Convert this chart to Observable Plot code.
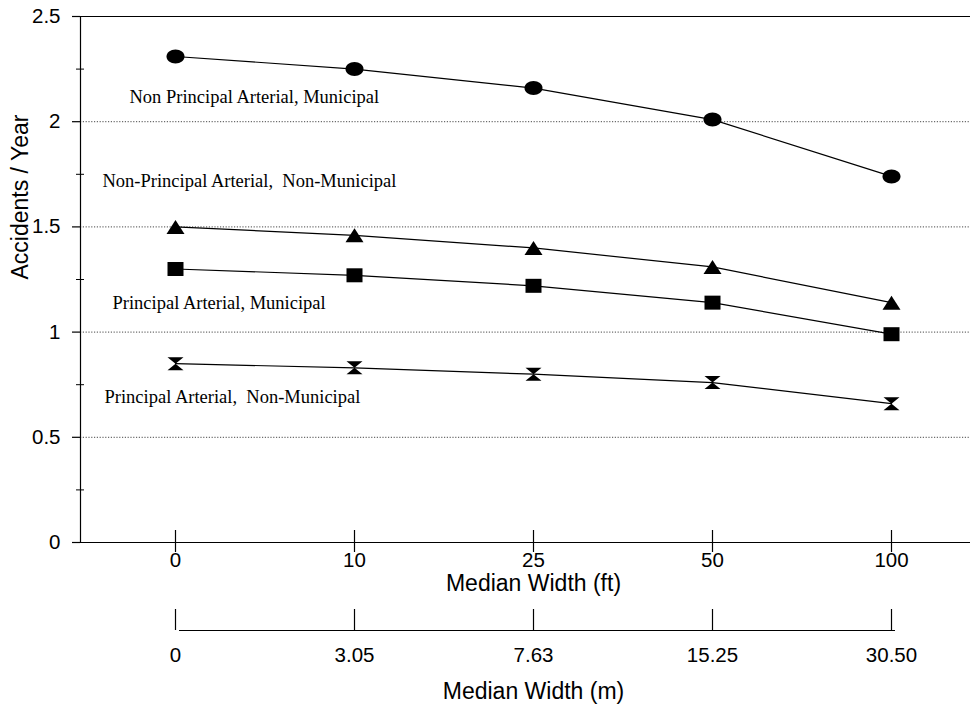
<!DOCTYPE html>
<html>
<head>
<meta charset="utf-8">
<script src="https://cdn.jsdelivr.net/npm/d3@7"></script>
<script src="https://cdn.jsdelivr.net/npm/@observablehq/plot@0.6"></script>
<style>
  html, body { margin: 0; padding: 0; background: #fff; }
  #chart svg { display: block; }
</style>
</head>
<body>
<div id="chart"></div>
<script>
// ---- data ----
const widthFt = ["0", "10", "25", "50", "100"];
const widthM = ["0", "3.05", "7.63", "15.25", "30.50"];
const seriesNames = [
  "Non Principal Arterial, Municipal",
  "Non-Principal Arterial,  Non-Municipal",
  "Principal Arterial, Municipal",
  "Principal Arterial,  Non-Municipal"
];
const nonPrincipalMunicipal = [2.31, 2.25, 2.16, 2.01, 1.74];
const nonPrincipalNonMunicipal = [1.50, 1.46, 1.40, 1.31, 1.14];
const principalMunicipal = [1.30, 1.27, 1.22, 1.14, 0.99];
const principalNonMunicipal = [0.85, 0.83, 0.80, 0.76, 0.66];
const yTicks = [0, 0.5, 1, 1.5, 2, 2.5];
const yMinorTicks = [0.25, 0.75, 1.25, 1.75, 2.25];
const gridValues = [0.5, 1, 1.5, 2];
// label annotation vertical positions (accidents/year)
const labelY = [2.115, 1.72, 1.14, 0.69];
const labelDx = [-46, -73, -63, -71];

const seriesValues = [nonPrincipalMunicipal, nonPrincipalNonMunicipal, principalMunicipal, principalNonMunicipal];
const rows = [];
seriesNames.forEach((s, si) => widthFt.forEach((x, i) => rows.push({series: s, x, y: seriesValues[si][i]})));

// ---- custom marker symbols ----
const ellipse = {draw(ctx) {
  const rx = 9, ry = 7, k = 0.5523;
  ctx.moveTo(rx, 0);
  ctx.bezierCurveTo(rx, ry * k, rx * k, ry, 0, ry);
  ctx.bezierCurveTo(-rx * k, ry, -rx, ry * k, -rx, 0);
  ctx.bezierCurveTo(-rx, -ry * k, -rx * k, -ry, 0, -ry);
  ctx.bezierCurveTo(rx * k, -ry, rx, -ry * k, rx, 0);
  ctx.closePath();
}};
const triangle = {draw(ctx) {
  ctx.moveTo(0, -7); ctx.lineTo(9, 7); ctx.lineTo(-9, 7); ctx.closePath();
}};
const square = {draw(ctx) {
  ctx.moveTo(-8, -7); ctx.lineTo(8, -7); ctx.lineTo(8, 7); ctx.lineTo(-8, 7); ctx.closePath();
}};
const hourglass = {draw(ctx) {
  ctx.moveTo(-8, -6.5); ctx.lineTo(8, -6.5); ctx.lineTo(0, 0); ctx.closePath();
  ctx.moveTo(-8, 6.5); ctx.lineTo(8, 6.5); ctx.lineTo(0, 0); ctx.closePath();
  ctx.moveTo(-5, 0); ctx.lineTo(5, 0);
}};

const sans = "'Liberation Sans', Arial, Helvetica, sans-serif";
const serif = "'Liberation Serif', 'Times New Roman', Times, serif";

const marks = [
  Plot.ruleY(gridValues, {stroke: "#000", strokeWidth: 0.9, strokeDasharray: "1.2,1.6", strokeOpacity: 0.8}),
  Plot.frame({anchor: "top", stroke: "#000", strokeWidth: 1.2}),
  Plot.frame({anchor: "left", stroke: "#000", strokeWidth: 1.2}),
  Plot.frame({anchor: "bottom", stroke: "#000", strokeWidth: 1.2}),
  Plot.axisY({ticks: yTicks, label: null, tickSize: 8, tickPadding: 12,
    fill: "#000", stroke: "#000", strokeWidth: 1.2, tickFormat: d => String(d)}),
  Plot.axisY({ticks: yMinorTicks, label: null, tickSize: 8, dx: 4, tickFormat: () => "", stroke: "#000", strokeWidth: 1}),
  Plot.axisX({label: null, tickSize: 22, dy: -12, tickFormat: () => "", stroke: "#000", strokeWidth: 1.2}),
  Plot.axisX({label: null, tickSize: 0, tickPadding: 10, fill: "#000"}),
  // metric axis
  Plot.ruleY([0], {x1: () => widthFt[0], x2: () => widthFt[widthFt.length - 1], dy: 88, dx: 4, stroke: "#000", strokeWidth: 1.2}),
  Plot.axisX({label: null, tickSize: 21, dy: 67, tickPadding: 17, fill: "#000",
    stroke: "#000", strokeWidth: 1.2, tickFormat: d => widthM[widthFt.indexOf(d)]}),
  // titles
  Plot.text(["Median Width (ft)"], {frameAnchor: "bottom", dx: 8, dy: 48, fontSize: 23, fill: "#000"}),
  Plot.text(["Median Width (m)"], {frameAnchor: "bottom", dx: 8, dy: 156, fontSize: 23, fill: "#000"}),
  Plot.text(["Accidents / Year"], {frameAnchor: "left", rotate: -90, dx: -60, fontSize: 23, fill: "#000"}),
  // series
  Plot.line(rows, {x: "x", y: "y", z: "series", stroke: "#000", strokeWidth: 1.2}),
  Plot.dot(rows, {x: "x", y: "y", symbol: "series", fill: "#000", stroke: "none", r: 8})
];
seriesNames.forEach((s, i) => {
  marks.push(Plot.text([s], {x: () => widthFt[0], y: () => labelY[i], dx: labelDx[i], textAnchor: "start",
    fontSize: 18.5, fontFamily: serif, fill: "#000"}));
});

const chart = Plot.plot({
  width: 970,
  height: 704,
  marginLeft: 80,
  marginRight: 0,
  marginTop: 16,
  marginBottom: 162,
  style: {background: "#fff", color: "#000", fontFamily: sans, fontSize: "20.5px"},
  x: {type: "point", domain: widthFt, range: [174, 891], padding: 0},
  y: {domain: [0, 2.5], range: [542, 16]},
  symbol: {domain: seriesNames, range: [ellipse, triangle, square, hourglass]},
  marks
});
document.getElementById("chart").appendChild(chart);
</script>
</body>
</html>
